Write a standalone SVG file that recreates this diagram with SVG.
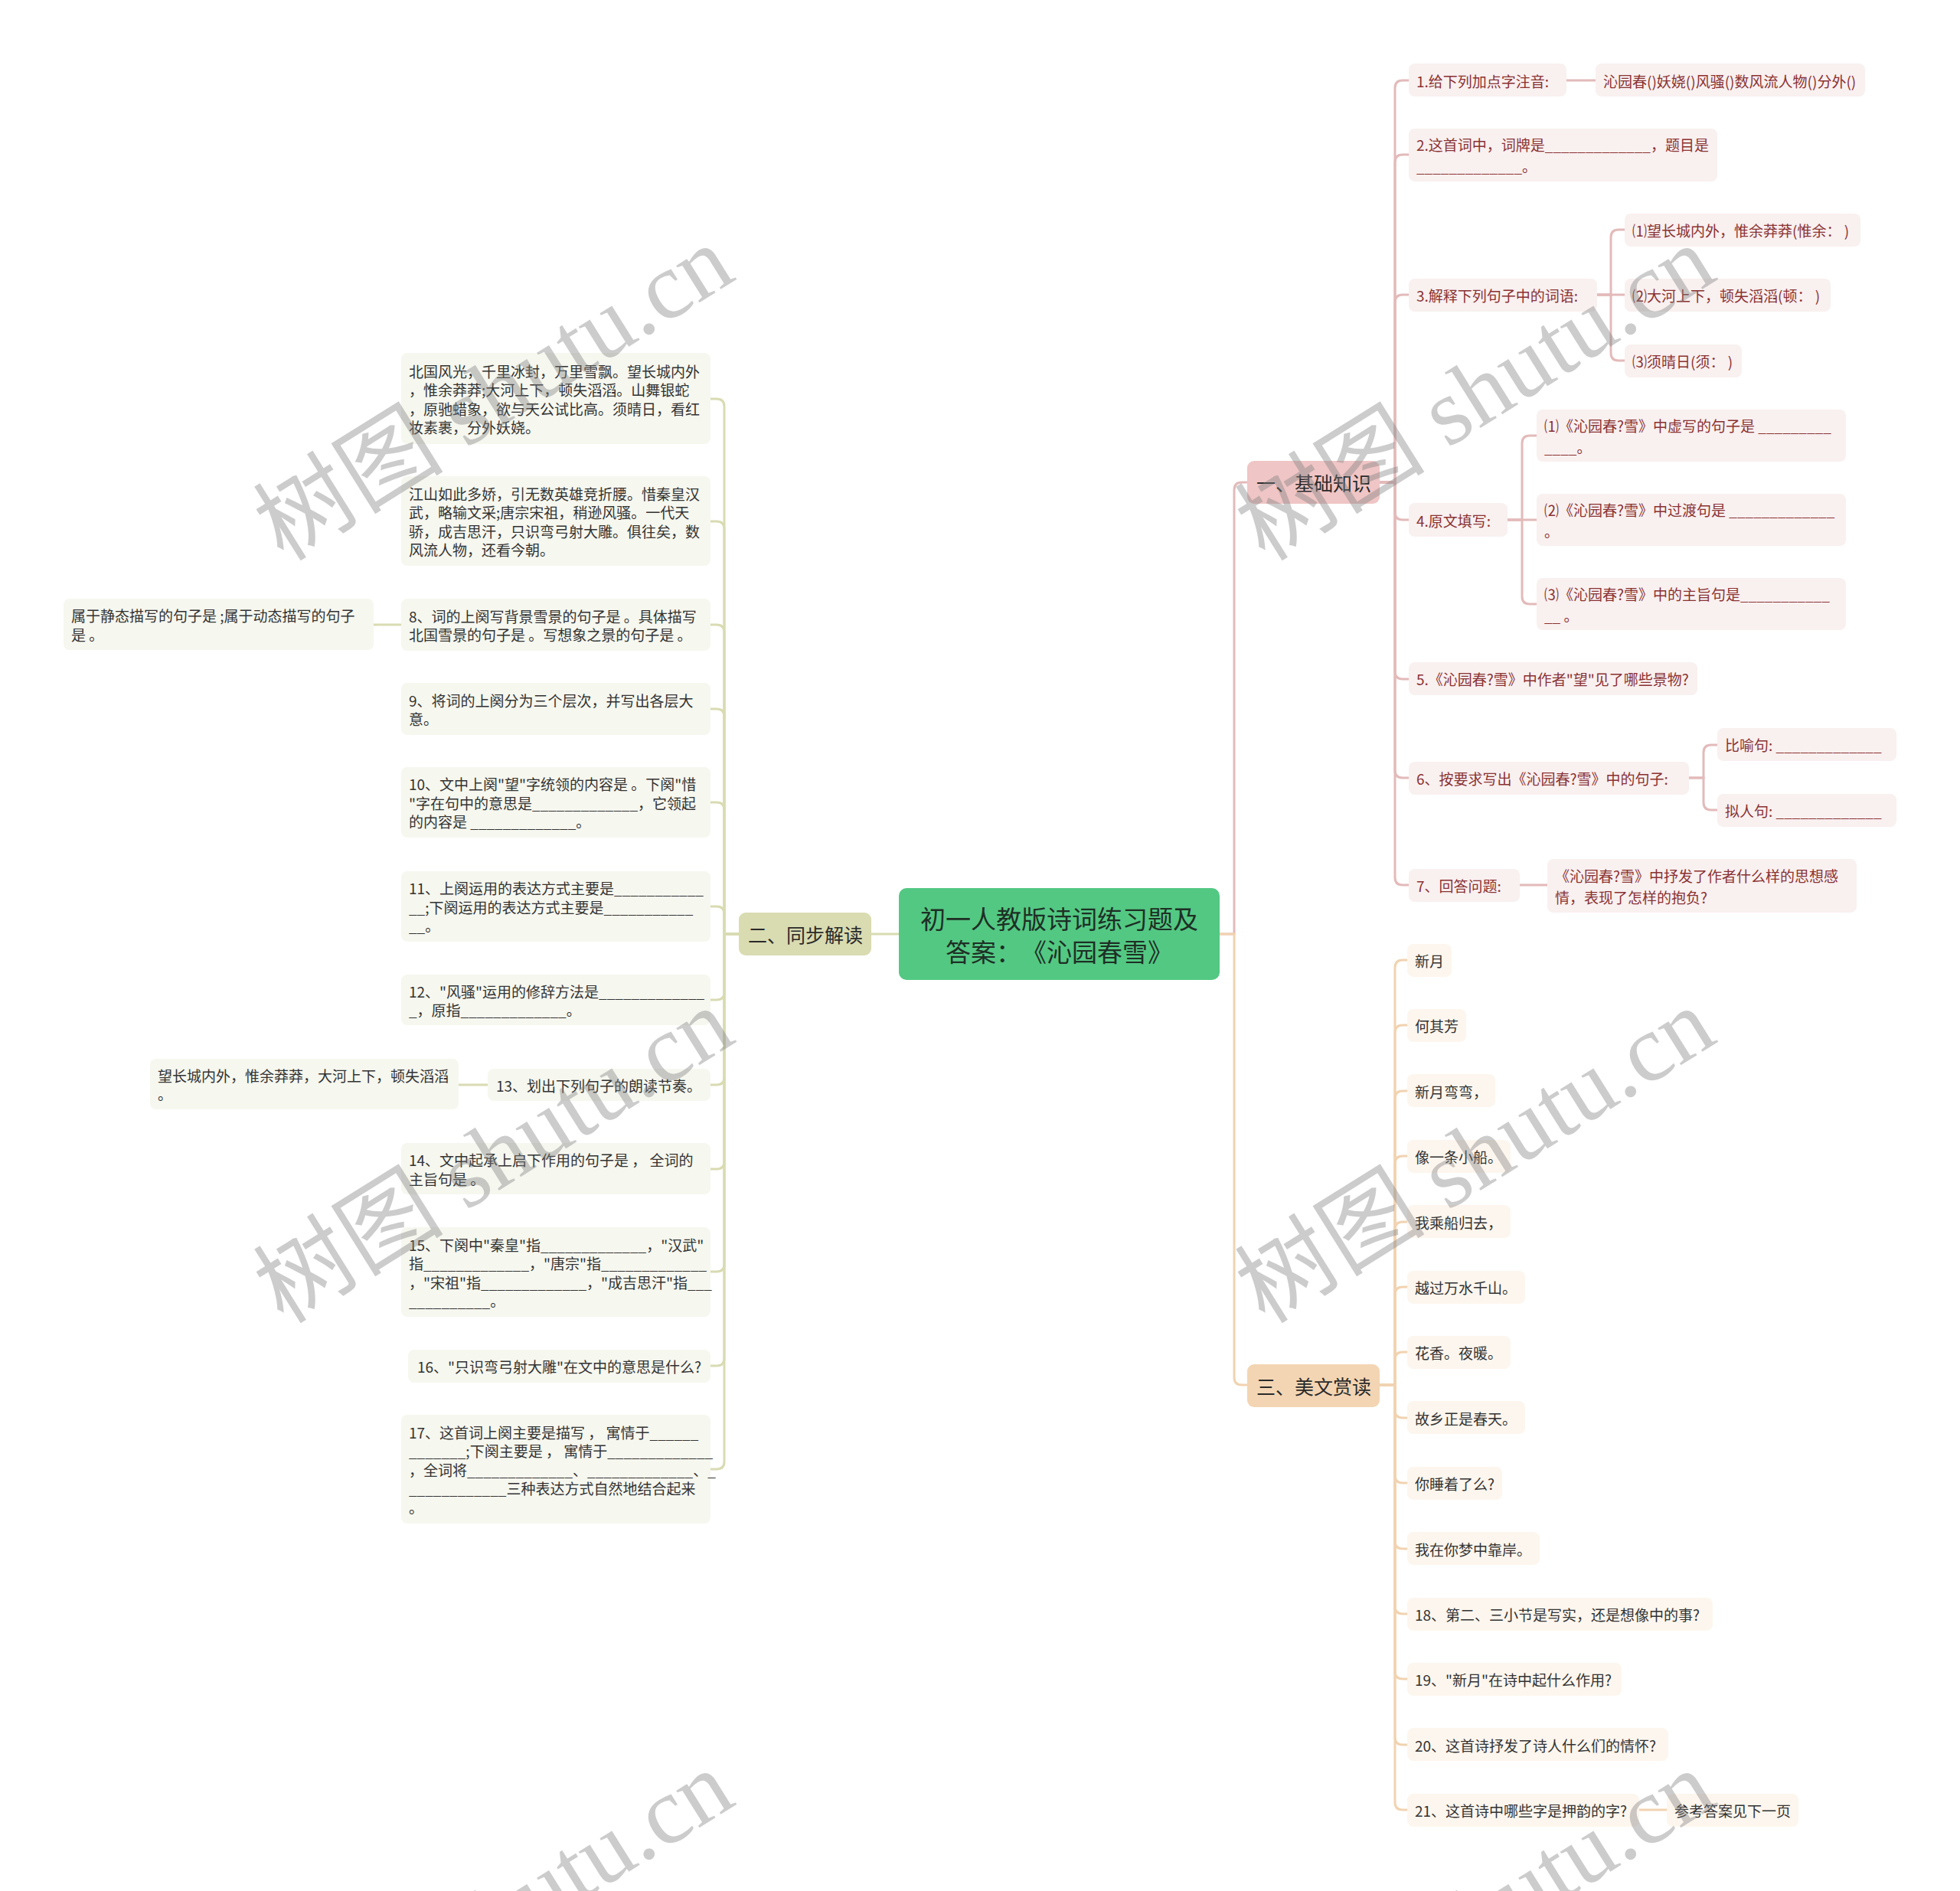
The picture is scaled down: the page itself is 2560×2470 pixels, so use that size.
<svg xmlns="http://www.w3.org/2000/svg" width="2560" height="2470" viewBox="0 0 2560 2470">
<style>
text{font-family:"Noto Sans CJK SC","Noto Sans",sans-serif;dominant-baseline:central;text-spacing-trim:space-all}
.t{font-size:19px}
.pk rect{fill:#f9f0f0}
.pk text{fill:#8a3232}
.ol rect{fill:#f6f7ef}
.ol text{fill:#333}
.pc rect{fill:#fdf6ee}
.pc text{fill:#333}
.l1 text{font-size:25px;fill:#2a2a2a}
.c{fill:none;stroke-width:3;stroke-linecap:round}
.cp{stroke:#e3baba}
.co{stroke:#d9dbb2}
.cc{stroke:#f1d3b1}
.wm{font-family:"Liberation Serif","Noto Sans CJK SC",serif;font-size:124px;fill:#808080;fill-opacity:0.4;text-anchor:middle}
</style>
<rect width="2560" height="2470" fill="#ffffff"/>
<g id="connectors">
<path class="c cp" d="M1593 1220H1612V640Q1612 630 1622 630H1629"/>
<path class="c cc" d="M1593 1220H1612V1799Q1612 1809 1622 1809H1629"/>
<path class="c co" d="M1174 1220H1138"/>
<g class="cp">
<path class="c" d="M1802 630H1822V115Q1822 105 1832 105H1840"/>
<path class="c" d="M1802 630H1822V212Q1822 202 1832 202H1840"/>
<path class="c" d="M1802 630H1822V395Q1822 385 1832 385H1840"/>
<path class="c" d="M1802 630H1822V669Q1822 679 1832 679H1840"/>
<path class="c" d="M1802 630H1822V877Q1822 887 1832 887H1840"/>
<path class="c" d="M1802 630H1822V1006Q1822 1016 1832 1016H1840"/>
<path class="c" d="M1802 630H1822V1146Q1822 1156 1832 1156H1840"/>
<path class="c" d="M2046 105H2084"/>
<path class="c" d="M2086 385H2104V310Q2104 300 2114 300H2122"/>
<path class="c" d="M2086 385H2122"/>
<path class="c" d="M2086 385H2104V461Q2104 471 2114 471H2122"/>
<path class="c" d="M1969 679H1988V579Q1988 569 1998 569H2007"/>
<path class="c" d="M1969 679H2007"/>
<path class="c" d="M1969 679H1988V779Q1988 789 1998 789H2007"/>
<path class="c" d="M2206 1016H2225V983Q2225 973 2235 973H2243"/>
<path class="c" d="M2206 1016H2225V1048Q2225 1058 2235 1058H2243"/>
<path class="c" d="M1985 1156H2021"/>
</g>
<g class="co">
<path class="c" d="M965 1220H946V531Q946 521 936 521H928"/>
<path class="c" d="M965 1220H946V691Q946 681 936 681H928"/>
<path class="c" d="M965 1220H946V826Q946 816 936 816H928"/>
<path class="c" d="M965 1220H946V936Q946 926 936 926H928"/>
<path class="c" d="M965 1220H946V1058Q946 1048 936 1048H928"/>
<path class="c" d="M965 1220H946V1194Q946 1184 936 1184H928"/>
<path class="c" d="M965 1220H946V1296Q946 1306 936 1306H928"/>
<path class="c" d="M965 1220H946V1407Q946 1417 936 1417H928"/>
<path class="c" d="M965 1220H946V1517Q946 1527 936 1527H928"/>
<path class="c" d="M965 1220H946V1651Q946 1661 936 1661H928"/>
<path class="c" d="M965 1220H946V1774Q946 1784 936 1784H928"/>
<path class="c" d="M965 1220H946V1909Q946 1919 936 1919H928"/>
<path class="c" d="M524 816H488"/>
<path class="c" d="M637 1417H599"/>
</g>
<g class="cc">
<path class="c" d="M1802 1809H1822V1264Q1822 1254 1832 1254H1838"/>
<path class="c" d="M1802 1809H1822V1349Q1822 1339 1832 1339H1838"/>
<path class="c" d="M1802 1809H1822V1435Q1822 1425 1832 1425H1838"/>
<path class="c" d="M1802 1809H1822V1520Q1822 1510 1832 1510H1838"/>
<path class="c" d="M1802 1809H1822V1606Q1822 1596 1832 1596H1838"/>
<path class="c" d="M1802 1809H1822V1691Q1822 1681 1832 1681H1838"/>
<path class="c" d="M1802 1809H1822V1776Q1822 1766 1832 1766H1838"/>
<path class="c" d="M1802 1809H1822V1842Q1822 1852 1832 1852H1838"/>
<path class="c" d="M1802 1809H1822V1927Q1822 1937 1832 1937H1838"/>
<path class="c" d="M1802 1809H1822V2013Q1822 2023 1832 2023H1838"/>
<path class="c" d="M1802 1809H1822V2098Q1822 2108 1832 2108H1838"/>
<path class="c" d="M1802 1809H1822V2183Q1822 2193 1832 2193H1838"/>
<path class="c" d="M1802 1809H1822V2269Q1822 2279 1832 2279H1838"/>
<path class="c" d="M1802 1809H1822V2354Q1822 2364 1832 2364H1838"/>
<path class="c" d="M2141 2364H2177"/>
</g>
</g>
<g id="root">
<rect x="1174" y="1160" width="419" height="120" rx="10" fill="#53c883"/>
<text x="1383.5" y="1199" font-size="33" fill="#1e2f25" text-anchor="middle">初一人教版诗词练习题及</text>
<text x="1383.5" y="1242" font-size="33" fill="#1e2f25" text-anchor="middle">答案：《沁园春雪》</text>
</g>
<g id="b1" class="l1"><rect x="1629" y="602" width="173" height="56" rx="9" fill="#efc5c5"/><text x="1641" y="630">一、基础知识</text></g>
<g id="b2" class="l1"><rect x="965" y="1192" width="173" height="56" rx="9" fill="#d9dbb1"/><text x="977" y="1220">二、同步解读</text></g>
<g id="b3" class="l1"><rect x="1629" y="1782" width="173" height="56" rx="9" fill="#f3d5b3"/><text x="1641" y="1810">三、美文赏读</text></g>
<g class="pk t">
<g id="p1"><rect x="1840" y="83" width="206" height="43" rx="8"/><text x="1850" y="105">1.给下列加点字注音:</text></g>
<g id="p1a"><rect x="2084" y="83" width="352" height="43" rx="8"/><text x="2094" y="105">沁园春()妖娆()风骚()数风流人物()分外()</text></g>
<g id="p2"><rect x="1840" y="168" width="403" height="69" rx="8"/><text x="1850" y="188.5">2.这首词中，词牌是_____________，题目是</text><text x="1850" y="216.5">_____________。</text></g>
<g id="p3"><rect x="1840" y="364" width="246" height="43" rx="8"/><text x="1850" y="385.5">3.解释下列句子中的词语:</text></g>
<g id="p3a"><rect x="2122" y="279" width="308" height="43" rx="8"/><text x="2132" y="300.5">⑴望长城内外，惟余莽莽(惟余： )</text></g>
<g id="p3b"><rect x="2122" y="364" width="269" height="43" rx="8"/><text x="2132" y="385.5">⑵大河上下，顿失滔滔(顿： )</text></g>
<g id="p3c"><rect x="2122" y="450" width="153" height="43" rx="8"/><text x="2132" y="471.5">⑶须晴日(须： )</text></g>
<g id="p4"><rect x="1840" y="657" width="129" height="44" rx="8"/><text x="1850" y="679">4.原文填写:</text></g>
<g id="p4a"><rect x="2007" y="535" width="404" height="68" rx="8"/><text x="2017" y="555">⑴《沁园春?雪》中虚写的句子是 _________</text><text x="2017" y="583">____。</text></g>
<g id="p4b"><rect x="2007" y="645" width="404" height="68" rx="8"/><text x="2017" y="665">⑵《沁园春?雪》中过渡句是 _____________</text><text x="2017" y="693">。</text></g>
<g id="p4c"><rect x="2007" y="755" width="404" height="68" rx="8"/><text x="2017" y="775">⑶《沁园春?雪》中的主旨句是___________</text><text x="2017" y="803">__ 。</text></g>
<g id="p5"><rect x="1840" y="865" width="377" height="43" rx="8"/><text x="1850" y="886.5">5.《沁园春?雪》中作者"望"见了哪些景物?</text></g>
<g id="p6"><rect x="1840" y="995" width="366" height="43" rx="8"/><text x="1850" y="1016.5">6、按要求写出《沁园春?雪》中的句子:</text></g>
<g id="p6a"><rect x="2243" y="951" width="234" height="43" rx="8"/><text x="2253" y="972.5">比喻句: _____________</text></g>
<g id="p6b"><rect x="2243" y="1037" width="234" height="43" rx="8"/><text x="2253" y="1058.5">拟人句: _____________</text></g>
<g id="p7"><rect x="1840" y="1135" width="145" height="43" rx="8"/><text x="1850" y="1156.5">7、回答问题:</text></g>
<g id="p7a"><rect x="2021" y="1122" width="404" height="70" rx="8"/><text x="2031" y="1143">《沁园春?雪》中抒发了作者什么样的思想感</text><text x="2031" y="1171">情，表现了怎样的抱负?</text></g>
</g>
<g class="ol t">
<g id="o1"><rect x="524" y="461" width="404" height="119" rx="8"/><text x="534" y="484">北国风光，千里冰封，万里雪飘。望长城内外</text><text x="534" y="508.5">，惟余莽莽;大河上下，顿失滔滔。山舞银蛇</text><text x="534" y="533">，原驰蜡象，欲与天公试比高。须晴日，看红</text><text x="534" y="557.5">妆素裹，分外妖娆。</text></g>
<g id="o2"><rect x="524" y="622" width="404" height="117" rx="8"/><text x="534" y="644">江山如此多娇，引无数英雄竞折腰。惜秦皇汉</text><text x="534" y="668.5">武，略输文采;唐宗宋祖，稍逊风骚。一代天</text><text x="534" y="693">骄，成吉思汗，只识弯弓射大雕。俱往矣，数</text><text x="534" y="717.5">风流人物，还看今朝。</text></g>
<g id="o3"><rect x="524" y="782" width="404" height="68" rx="8"/><text x="534" y="804">8、词的上阕写背景雪景的句子是 。具体描写</text><text x="534" y="828.5">北国雪景的句子是 。写想象之景的句子是 。</text></g>
<g id="o3a"><rect x="83" y="782" width="405" height="67" rx="8"/><text x="93" y="803.5">属于静态描写的句子是 ;属于动态描写的句子</text><text x="93" y="828">是 。</text></g>
<g id="o4"><rect x="524" y="892" width="404" height="68" rx="8"/><text x="534" y="914">9、将词的上阕分为三个层次，并写出各层大</text><text x="534" y="938.5">意。</text></g>
<g id="o5"><rect x="524" y="1002" width="404" height="92" rx="8"/><text x="534" y="1023.5">10、文中上阕"望"字统领的内容是 。下阕"惜</text><text x="534" y="1048">"字在句中的意思是_____________，它领起</text><text x="534" y="1072.5">的内容是 _____________。</text></g>
<g id="o6"><rect x="524" y="1138" width="404" height="92" rx="8"/><text x="534" y="1159.5">11、上阕运用的表达方式主要是___________</text><text x="534" y="1184">__;下阕运用的表达方式主要是___________</text><text x="534" y="1208.5">__。</text></g>
<g id="o7"><rect x="524" y="1273" width="404" height="66" rx="8"/><text x="534" y="1294">12、"风骚"运用的修辞方法是_____________</text><text x="534" y="1318.5">_，原指_____________。</text></g>
<g id="o8"><rect x="637" y="1396" width="291" height="42" rx="8"/><text x="648" y="1417">13、划出下列句子的朗读节奏。</text></g>
<g id="o8a"><rect x="196" y="1383" width="403" height="66" rx="8"/><text x="206" y="1404">望长城内外，惟余莽莽，大河上下，顿失滔滔</text><text x="206" y="1428.5">。</text></g>
<g id="o9"><rect x="524" y="1493" width="404" height="67" rx="8"/><text x="534" y="1514.5">14、文中起承上启下作用的句子是 ， 全词的</text><text x="534" y="1539">主旨句是 。</text></g>
<g id="o10"><rect x="524" y="1603" width="404" height="117" rx="8"/><text x="534" y="1625">15、下阕中"秦皇"指_____________，"汉武"</text><text x="534" y="1649.5">指_____________，"唐宗"指_____________</text><text x="534" y="1674">，"宋祖"指_____________，"成吉思汗"指___</text><text x="534" y="1698.5">__________。</text></g>
<g id="o11"><rect x="533" y="1763" width="395" height="43" rx="8"/><text x="545" y="1784.5">16、"只识弯弓射大雕"在文中的意思是什么?</text></g>
<g id="o12"><rect x="524" y="1848" width="404" height="142" rx="8"/><text x="534" y="1870">17、这首词上阕主要是描写 ， 寓情于______</text><text x="534" y="1894.5">_______;下阕主要是 ， 寓情于_____________</text><text x="534" y="1919">，全词将_____________、_____________、_</text><text x="534" y="1943.5">____________三种表达方式自然地结合起来</text><text x="534" y="1968">。</text></g>
</g>
<g class="pc t">
<g id="c1"><rect x="1838" y="1233" width="58" height="43" rx="8"/><text x="1848" y="1254.5">新月</text></g>
<g id="c2"><rect x="1838" y="1318" width="77" height="43" rx="8"/><text x="1848" y="1339.5">何其芳</text></g>
<g id="c3"><rect x="1838" y="1403" width="115" height="43" rx="8"/><text x="1848" y="1425">新月弯弯，</text></g>
<g id="c4"><rect x="1838" y="1489" width="135" height="43" rx="8"/><text x="1848" y="1510.5">像一条小船。</text></g>
<g id="c5"><rect x="1838" y="1574" width="135" height="43" rx="8"/><text x="1848" y="1596">我乘船归去，</text></g>
<g id="c6"><rect x="1838" y="1660" width="154" height="43" rx="8"/><text x="1848" y="1681.5">越过万水千山。</text></g>
<g id="c7"><rect x="1838" y="1745" width="135" height="43" rx="8"/><text x="1848" y="1766.5">花香。夜暖。</text></g>
<g id="c8"><rect x="1838" y="1830" width="154" height="43" rx="8"/><text x="1848" y="1852">故乡正是春天。</text></g>
<g id="c9"><rect x="1838" y="1916" width="124" height="43" rx="8"/><text x="1848" y="1937.5">你睡着了么?</text></g>
<g id="c10"><rect x="1838" y="2001" width="173" height="43" rx="8"/><text x="1848" y="2023">我在你梦中靠岸。</text></g>
<g id="c11"><rect x="1838" y="2087" width="399" height="43" rx="8"/><text x="1848" y="2108.5">18、第二、三小节是写实，还是想像中的事?</text></g>
<g id="c12"><rect x="1838" y="2172" width="280" height="43" rx="8"/><text x="1848" y="2193.5">19、"新月"在诗中起什么作用?</text></g>
<g id="c13"><rect x="1838" y="2257" width="341" height="43" rx="8"/><text x="1848" y="2279">20、这首诗抒发了诗人什么们的情怀?</text></g>
<g id="c14"><rect x="1838" y="2343" width="303" height="43" rx="8"/><text x="1848" y="2364.5">21、这首诗中哪些字是押韵的字?</text></g>
<g id="c14a"><rect x="2177" y="2343" width="172" height="43" rx="8"/><text x="2187" y="2364.5">参考答案见下一页</text></g>
</g>
<g id="watermark">
<text class="wm" transform="translate(645 514) rotate(-32)" textLength="700" lengthAdjust="spacingAndGlyphs">树图 shutu.cn</text>
<text class="wm" transform="translate(1927 514) rotate(-32)" textLength="700" lengthAdjust="spacingAndGlyphs">树图 shutu.cn</text>
<text class="wm" transform="translate(645 1510) rotate(-32)" textLength="700" lengthAdjust="spacingAndGlyphs">树图 shutu.cn</text>
<text class="wm" transform="translate(1927 1510) rotate(-32)" textLength="700" lengthAdjust="spacingAndGlyphs">树图 shutu.cn</text>
<text class="wm" transform="translate(645 2506) rotate(-32)" textLength="700" lengthAdjust="spacingAndGlyphs">树图 shutu.cn</text>
<text class="wm" transform="translate(1927 2506) rotate(-32)" textLength="700" lengthAdjust="spacingAndGlyphs">树图 shutu.cn</text>
</g>
</svg>
